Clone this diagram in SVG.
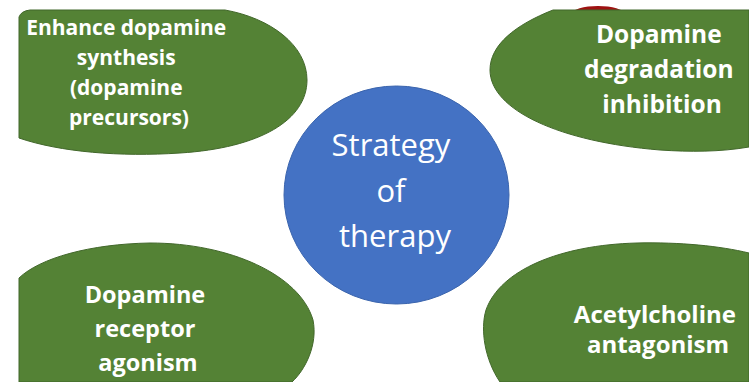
<svg xmlns="http://www.w3.org/2000/svg" width="749" height="382" viewBox="0 0 749 382">
  <style>
    .leaf { fill: #548235; stroke: #41672a; stroke-width: 1; }
    .hub { fill: #4472c4; stroke: #3a64ad; stroke-width: 1; }
    .leaf-text { font-family: "Open Sans", Lato, "Liberation Sans", sans-serif; font-weight: 700; fill: #ffffff; text-anchor: middle; }
    .hub-text { font-family: "Open Sans", Lato, "Liberation Sans", sans-serif; font-weight: 400; fill: #ffffff; text-anchor: middle; font-size: 31px; }
  </style>
  <rect width="749" height="382" fill="#ffffff"/>

  <!-- partial red shape peeking above the top-right node -->
  <ellipse cx="598" cy="14" rx="26" ry="8" fill="#9e1212"/>

  <g id="node-synthesis">
    <path class="leaf" d="M19,17 Q21,11 30,10 L225,10 C270,18 307,45 307,80 C307,120 260,148 180,153 C120,157 60,152 19,138 Z"/>
    <text class="leaf-text" font-size="21">
      <tspan x="129" y="35">Enhance dopamine</tspan>
      <tspan x="129" y="65">synthesis</tspan>
      <tspan x="129" y="95">(dopamine</tspan>
      <tspan x="129" y="125">precursors)</tspan>
    </text>
  </g>

  <g id="node-degradation">
    <path class="leaf" d="M553,10 L749,10 L749,147 C720,152 690,152 660,150 C560,142 490,110 490,70 C490,45 515,25 553,10 Z"/>
    <text class="leaf-text" font-size="24.5">
      <tspan x="662" y="43">Dopamine</tspan>
      <tspan x="662" y="78">degradation</tspan>
      <tspan x="662" y="113">inhibition</tspan>
    </text>
  </g>

  <g id="node-agonism">
    <path class="leaf" d="M19,278 C40,258 90,244 150,243 C230,243 300,275 313,320 C318,345 305,370 292,382 L19,382 Z"/>
    <text class="leaf-text" font-size="23.5">
      <tspan x="148" y="303">Dopamine</tspan>
      <tspan x="148" y="337">receptor</tspan>
      <tspan x="148" y="371">agonism</tspan>
    </text>
  </g>

  <g id="node-antagonism">
    <path class="leaf" d="M749,253 C720,246 680,242 637,243 C560,245 500,270 486,310 C480,330 485,360 500,382 L749,382 Z"/>
    <text class="leaf-text" font-size="24">
      <tspan x="658" y="323">Acetylcholine</tspan>
      <tspan x="658" y="353">antagonism</tspan>
    </text>
  </g>

  <g id="node-strategy">
    <ellipse class="hub" cx="396.5" cy="195" rx="112.5" ry="109"/>
    <text class="hub-text">
      <tspan x="395" y="156">Strategy</tspan>
      <tspan x="395" y="202">of</tspan>
      <tspan x="395" y="247">therapy</tspan>
    </text>
  </g>

  <g id="connectors"/>
</svg>
